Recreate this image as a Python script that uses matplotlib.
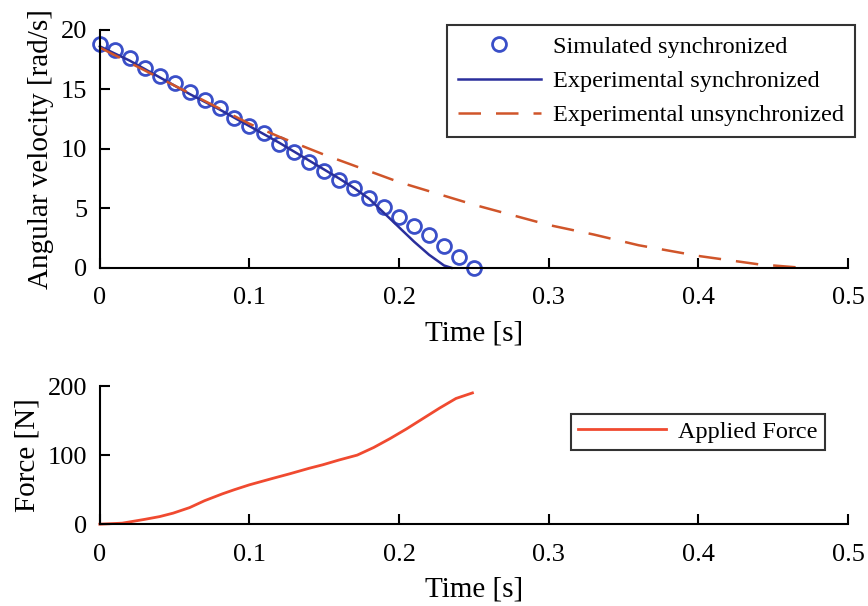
import numpy as np
import matplotlib
matplotlib.use("Agg")
import matplotlib.pyplot as plt

plt.rcParams['font.family'] = ['Liberation Serif', 'DejaVu Serif']

# simulated synchronized run (one point every 10 ms)
t_sim = np.arange(26) * 0.01
w_sim = [18.8, 18.3, 17.6, 16.8, 16.1, 15.5, 14.8, 14.1, 13.4, 12.6,
         11.9, 11.3, 10.4, 9.7, 8.9, 8.1, 7.4, 6.7, 5.9, 5.1,
         4.3, 3.5, 2.8, 1.8, 0.9, 0.0]

# measured, synchronized
t_sync = [0.0, 0.02, 0.04, 0.06, 0.08, 0.10, 0.12, 0.14, 0.16, 0.17,
          0.18, 0.19, 0.20, 0.21, 0.22, 0.23, 0.235]
w_sync = [18.6, 17.4, 16.0, 14.6, 13.3, 11.9, 10.5, 9.0, 7.5, 6.7,
          5.8, 4.6, 3.4, 2.2, 1.1, 0.2, 0.0]

# measured, unsynchronized
t_unsync = [0.0, 0.05, 0.10, 0.12, 0.15, 0.20, 0.25, 0.30, 0.33, 0.36,
            0.40, 0.44, 0.47]
w_unsync = [18.5, 15.3, 12.1, 11.0, 9.5, 7.2, 5.3, 3.6, 2.8, 1.9,
            1.0, 0.3, 0.0]

# applied force
t_force = [0.0, 0.015, 0.03, 0.04, 0.049, 0.06, 0.07, 0.082, 0.09, 0.10,
           0.115, 0.127, 0.14, 0.149, 0.16, 0.172, 0.183, 0.194, 0.205,
           0.216, 0.227, 0.238, 0.249]
f_force = [0.0, 1.5, 7, 11, 16, 24, 34, 44, 50, 57,
           66, 73, 81, 86, 93, 100, 111, 124, 138,
           153, 168, 182, 190]

fig = plt.figure(figsize=(8.68, 6.06), dpi=100)
ax1 = fig.add_axes([0.115, 0.558, 0.862, 0.393])
ax2 = fig.add_axes([0.115, 0.135, 0.862, 0.228])

ax1.plot(t_sim, w_sim, 'o', ms=10, mfc='none', mec='#3a4fc8', mew=2,
         label='Simulated synchronized')
ax1.plot(t_sync, w_sync, '-', color='#2a2f9c', lw=1.8,
         label='Experimental synchronized')
ax1.plot(t_unsync, w_unsync, '--', color='#d0552a', lw=1.8, dashes=(9, 6),
         label='Experimental unsynchronized')
ax1.set_xlim(0, 0.5)
ax1.set_ylim(0, 20)
ax1.set_xticks([0, 0.1, 0.2, 0.3, 0.4, 0.5])
ax1.set_xticklabels(['0', '0.1', '0.2', '0.3', '0.4', '0.5'])
ax1.set_yticks([0, 5, 10, 15, 20])
ax1.set_xlabel('Time [s]', fontsize=21, labelpad=8)
ax1.set_ylabel('Angular velocity [rad/s]', fontsize=21, labelpad=5)
leg1 = ax1.legend(loc='upper right', bbox_to_anchor=(1.009, 1.02), fontsize=17.5,
                  frameon=True, fancybox=False, edgecolor='black',
                  borderaxespad=0, handlelength=3.4, borderpad=0.45,
                  labelspacing=0.5, handletextpad=0.5)
leg1.get_frame().set_linewidth(1.5)

ax2.plot(t_force, f_force, '-', color='#f04a30', lw=2, label='Applied Force')
ax2.set_xlim(0, 0.5)
ax2.set_ylim(0, 200)
ax2.set_xticks([0, 0.1, 0.2, 0.3, 0.4, 0.5])
ax2.set_xticklabels(['0', '0.1', '0.2', '0.3', '0.4', '0.5'])
ax2.set_yticks([0, 100, 200])
ax2.set_xlabel('Time [s]', fontsize=21, labelpad=8)
ax2.set_ylabel('Force [N]', fontsize=21, labelpad=5)
leg2 = ax2.legend(loc='upper right', bbox_to_anchor=(0.969, 0.80), fontsize=17.5,
                  frameon=True, fancybox=False, edgecolor='black',
                  borderaxespad=0, handlelength=3.6, borderpad=0.3,
                  handletextpad=0.5)
leg2.get_frame().set_linewidth(1.5)

for ax in (ax1, ax2):
    ax.spines['top'].set_visible(False)
    ax.spines['right'].set_visible(False)
    for s in ('left', 'bottom'):
        ax.spines[s].set_linewidth(1.5)
    ax.tick_params(direction='in', length=7, width=1.5, labelsize=19)
    ax.tick_params(axis='x', pad=14)
    ax.tick_params(axis='y', pad=9)
    for line in ax.get_lines():
        line.set_clip_on(False)

fig.savefig('out.png', dpi=100)
